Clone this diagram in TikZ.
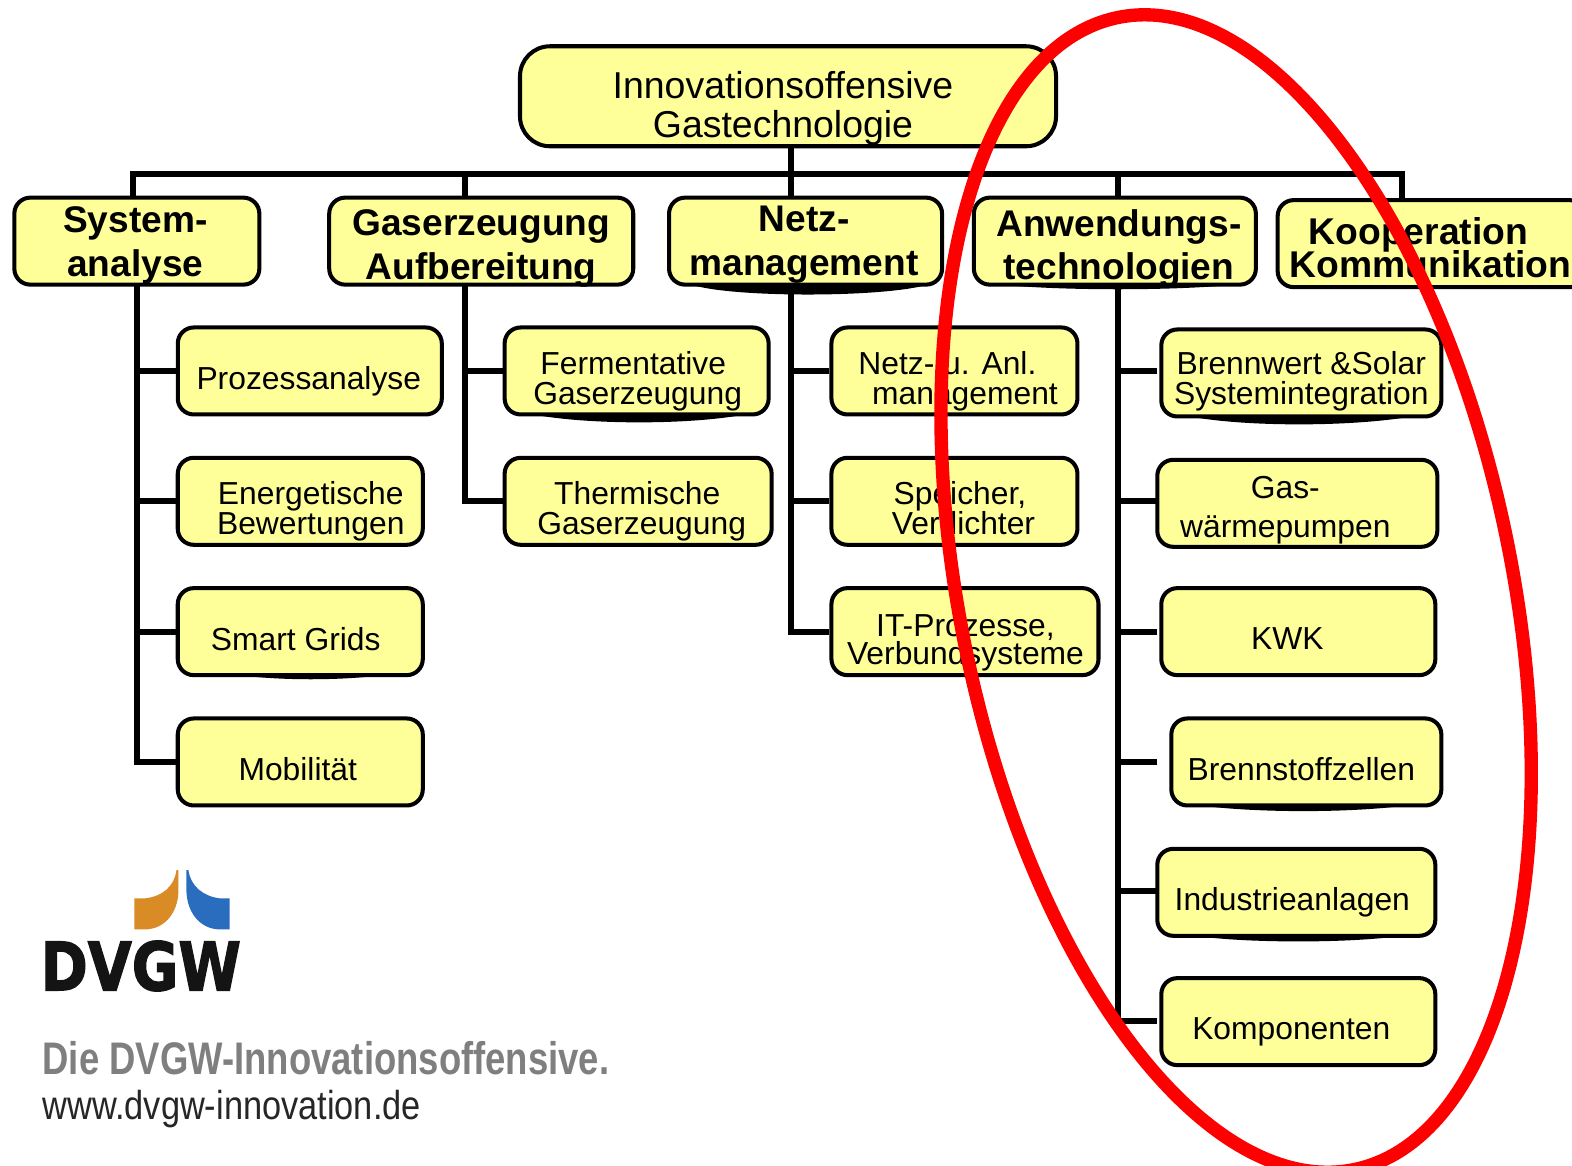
\documentclass[tikz,border=0pt]{standalone}
\usepackage{fontspec}
\setmainfont{Liberation Sans}
\newfontfamily\logofont[BoldFeatures={FakeBold=2.2}]{DejaVu Sans}
\definecolor{boxyellow}{HTML}{FFFF99}
\definecolor{hoopred}{HTML}{FF0000}
\definecolor{logoorange}{HTML}{D98C25}
\definecolor{logoblue}{HTML}{2A6DBE}
\definecolor{claimgray}{HTML}{7F7F7F}
\lineskiplimit=-5pt
\tikzset{
  box/.style={draw, line width=1.15pt, fill=boxyellow, rounded corners=.16cm, inner sep=0pt, minimum height=.87cm},
  rootbox/.style={box, rounded corners=.3cm, minimum height=1cm},
  wire/.style={line width=1.7pt},
  bulge/.style={fill=black},
  roottext/.style={align=center, inner sep=0pt, font=\fontsize{10.65}{11}\selectfont},
  headtext/.style={align=center, inner sep=0pt, font=\bfseries\fontsize{10.55}{12.4}\selectfont},
  leaftext/.style={align=center, inner sep=0pt, font=\fontsize{9.05}{8.5}\selectfont},
}
\begin{document}
\begin{tikzpicture}[x=.010026cm, y=-.010026cm]
  \useasboundingbox (0,0) rectangle (1568,1163);

  % bus and trunks
  \coordinate (busL) at (133,173.5);
  \coordinate (busR) at (1398,173.5);
  \coordinate (trunkA) at (137,284);
  \coordinate (trunkB) at (464,284);
  \coordinate (trunkC) at (789,284);
  \coordinate (trunkD) at (1115,284);

  % bulges under some boxes
  \fill[bulge] (690,284) .. controls (730,297) and (880,297) .. (925,284);
  \fill[bulge] (1000,284) .. controls (1060,290) and (1170,290) .. (1230,284);
  \fill[bulge] (530,413) .. controls (585,424) and (690,424) .. (745,413);
  \fill[bulge] (1185,415) .. controls (1240,426) and (1350,426) .. (1410,415);
  \fill[bulge] (1195,803) .. controls (1250,811) and (1350,811) .. (1405,803);
  \fill[bulge] (1190,933) .. controls (1240,941) and (1350,941) .. (1400,933);
  \fill[bulge] (235,673) .. controls (280,679) and (340,679) .. (385,673);

  % boxes
  \node[rootbox, minimum width=5.36cm] (root) at (786,96) {};
  \node[box, minimum width=2.45cm] (system) at (136.5,240.5) {};
  \node[box, minimum width=3.04cm] (gas) at (480,240.5) {};
  \node[box, minimum width=2.73cm] (netz) at (803.5,240.5) {};
  \node[box, minimum width=2.82cm] (anw) at (1112,240.5) {};
  \node[box, minimum width=3.08cm] (koop) at (1428,243) {};

  \node[box, minimum width=2.64cm] (prozess) at (309,370) {};
  \node[box, minimum width=2.45cm] (energie) at (299.5,500) {};
  \node[box, minimum width=2.45cm] (smart) at (299.5,630) {};
  \node[box, minimum width=2.45cm] (mobil) at (299.5,760) {};
  \node[box, minimum width=2.64cm] (ferment) at (635,370) {};
  \node[box, minimum width=2.67cm] (thermo) at (636.5,500) {};
  \node[box, minimum width=2.46cm] (anlage) at (952,370) {};
  \node[box, minimum width=2.46cm] (speicher) at (952,500) {};
  \node[box, minimum width=2.67cm] (prozesse) at (962.5,630) {};
  \node[box, minimum width=2.80cm] (brennwert) at (1298,372) {};
  \node[box, minimum width=2.80cm] (waerme) at (1294,502) {};
  \node[box, minimum width=2.74cm] (kwk) at (1295,630) {};
  \node[box, minimum width=2.70cm] (zelle) at (1303,760) {};
  \node[box, minimum width=2.78cm] (industrie) at (1293,890) {};
  \node[box, minimum width=2.74cm] (komp) at (1295,1019) {};

  % connectors
  \draw[wire] (root.south -| trunkC) -- (trunkC |- busL);
  \draw[wire] (system.north -| busL) |- (busR) -- (busR |- koop.north);
  \draw[wire] (trunkB |- busL) -- (trunkB |- gas.north);
  \draw[wire] (trunkC |- busL) -- (trunkC |- netz.north);
  \draw[wire] (trunkD |- busL) -- (trunkD |- anw.north);

  \draw[wire] (trunkA) |- (prozess.west);
  \draw[wire] (trunkA) |- (energie.west);
  \draw[wire] (trunkA) |- (smart.west);
  \draw[wire] (trunkA) |- (mobil.west);
  \draw[wire] (trunkB) |- (ferment.west);
  \draw[wire] (trunkB) |- (thermo.west);
  \draw[wire] (trunkC) |- (anlage.west);
  \draw[wire] (trunkC) |- (speicher.west);
  \draw[wire] (trunkC) |- (prozesse.west);
  \coordinate (endA) at (1154,370);
  \coordinate (endB) at (1154,500);
  \coordinate (endC) at (1154,630);
  \coordinate (endD) at (1154,760);
  \coordinate (endE) at (1154,889);
  \coordinate (endF) at (1154,1018);
  \draw[wire] (trunkD) |- (endA);
  \draw[wire] (trunkD) |- (endB);
  \draw[wire] (trunkD) |- (endC);
  \draw[wire] (trunkD) |- (endD);
  \draw[wire] (trunkD) |- (endE);
  \draw[wire] (trunkD) |- (endF);

  % texts
  \node[roottext] (roottxt) at (781,108) {Innovationsoffensive\\[0.1pt]Gastechnologie};
  \node[headtext] (systemtxt) at (135,245) {System-\\analyse};
  \node[headtext] (gastxt) at (480,248) {Gaserzeugung\\Aufbereitung};
  \node[headtext] (netztxt) at (802,244) {Netz-\\management};
  \node[headtext] (anwtxt) at (1116,248) {Anwendungs-\\technologien};
  \node[headtext, font=\bfseries\fontsize{10.6}{9.5}\selectfont] (kooptxt) at (1427,247) {Kooperation\hspace*{7pt}\\Kommunikation};

  \node[leaftext] (prozesstxt) at (308,380) {Prozessanalyse};
  \node[leaftext] (energietxt) at (310,510) {Energetische\\Bewertungen};
  \node[leaftext] (smarttxt) at (295,637) {Smart Grids};
  \node[leaftext] (mobiltxt) at (297,767) {Mobilität};
  \node[leaftext] (fermenttxt) at (636,380) {Fermentative\hspace*{2.5pt}\\Gaserzeugung};
  \node[leaftext] (thermotxt) at (640,510) {Thermische\hspace*{2.5pt}\\Gaserzeugung};
  \node[leaftext] (anlagetxt) at (959,380) {Netz- u. Anl.\hspace*{8pt}\\\hspace*{2pt}management};
  \node[leaftext] (speichertxt) at (961,507) {Speicher,\hspace*{2pt}\\Verdichter};
  \node[leaftext] (prozessetxt) at (963,641) {IT-Prozesse,\\[-.5pt]Verbundsysteme};
  \node[leaftext] (brennwerttxt) at (1298,380) {Brennwert \&Solar\\Systemintegration};
  \node[leaftext, font=\fontsize{9.05}{11}\selectfont] (waermetxt) at (1282,509) {Gas-\\wärmepumpen};
  \node[leaftext] (kwktxt) at (1284,637) {KWK};
  \node[leaftext] (zelletxt) at (1298,767) {Brennstoffzellen};
  \node[leaftext] (industrietxt) at (1289,900) {Industrieanlagen};
  \node[leaftext] (komptxt) at (1288,1029) {Komponenten};

  % logo
  \fill[logoorange] (134,896) -- (145,896) .. controls (162,894) and (174,884) .. (176,868) -- (178,868) -- (178,890) .. controls (177,910) and (165,926) .. (146,927) -- (134,927) -- cycle;
  \fill[logoblue] (229,896) -- (219,896) .. controls (203,894) and (190,884) .. (188,868) -- (186,868) -- (186,890) .. controls (187,910) and (199,926) .. (218,927) -- (229,927) -- cycle;
  \node[inner sep=0pt, font=\logofont\bfseries\fontsize{19}{20}\selectfont, transform shape, xscale=.85, text=black!92] (logotxt) at (140.5,963.5) {DVGW};
  \node[inner sep=0pt, anchor=base west, font=\bfseries\fontsize{13}{15}\selectfont, transform shape, xscale=.798, text=claimgray] (claimtxt) at (42,1072) {Die DVGW-Innovationsoffensive.};
  \node[inner sep=0pt, anchor=base west, font=\fontsize{11.5}{14}\selectfont, transform shape, xscale=.85, text=black!85] (urltxt) at (42,1117) {www.dvgw-innovation.de};

  % red hoop on top
  \coordinate (hoopc) at (1233,592);
  \draw[hoopred, line width=3.8pt, rotate around={11.6:(hoopc)}] (hoopc) ellipse [x radius=2.76cm, y radius=5.88cm];
\end{tikzpicture}
\end{document}
